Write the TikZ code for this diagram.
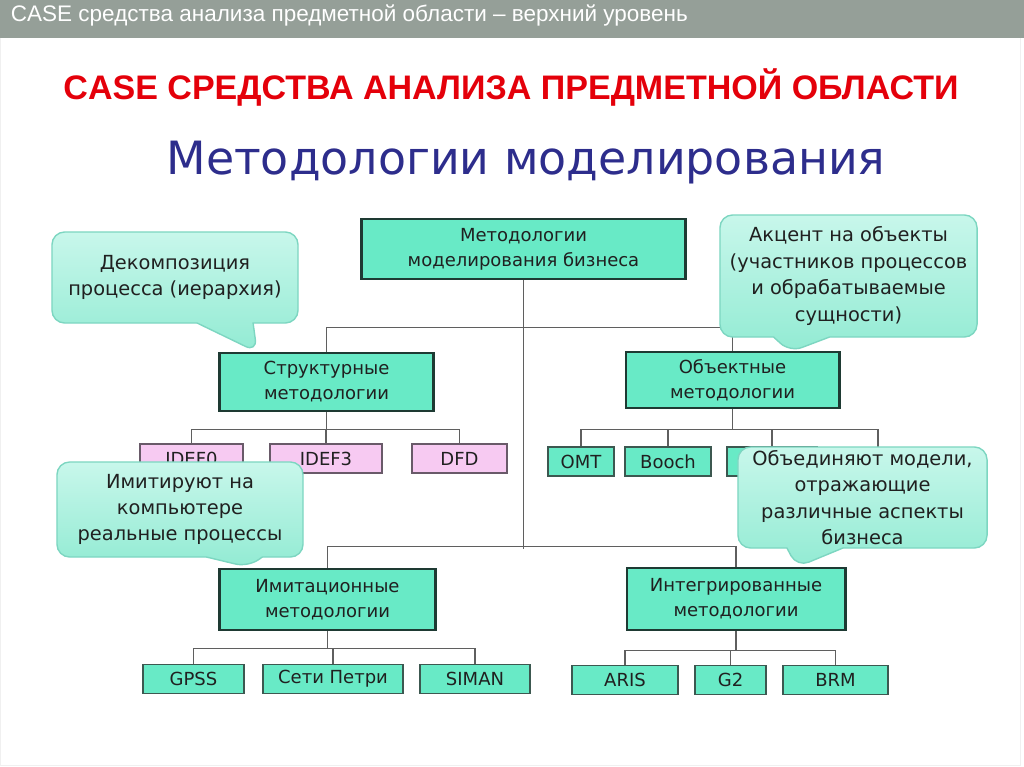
\documentclass[tikz,border=0pt]{standalone}
\usepackage{fontspec}
\setmainfont{DejaVu Sans}
\newfontfamily\slidefont{Liberation Sans}
\usepackage{xcolor}
\usetikzlibrary{shapes.callouts}

\definecolor{headgray}{RGB}{149,159,152}
\definecolor{titlered}{RGB}{228,0,10}
\definecolor{subblue}{RGB}{45,45,140}
\definecolor{tealfill}{RGB}{104,234,198}
\definecolor{boxline}{RGB}{30,58,51}
\definecolor{leafline}{RGB}{60,88,80}
\definecolor{pinkfill}{RGB}{247,202,242}
\definecolor{pinkline}{RGB}{105,90,105}
\definecolor{notetop}{RGB}{200,247,235}
\definecolor{notebot}{RGB}{146,235,211}
\definecolor{notedraw}{RGB}{125,214,193}
\definecolor{linkgray}{RGB}{95,95,95}
\definecolor{boxtext}{RGB}{32,32,32}

\tikzset{
  method/.style={draw=boxline, line width=2.1pt, fill=tealfill, inner sep=0pt,
    align=center, text=boxtext, font=\fontsize{12.8}{17.8}\selectfont},
  tool/.style={draw=leafline, line width=1pt, fill=tealfill, inner sep=0pt,
    minimum height=0.72cm, text=boxtext, font=\fontsize{12.8}{15}\selectfont},
  oldtool/.style={tool, fill=pinkfill, draw=pinkline},
  remark/.style={rectangle callout, rounded corners=9pt, draw=notedraw, line width=1pt,
    top color=notetop, bottom color=notebot, inner sep=0pt, align=center,
    text=boxtext, font=\fontsize{13.8}{18.8}\selectfont, callout pointer width=1.4cm},
  link/.style={draw=linkgray, line width=1.1pt},
}

\begin{document}
\begin{tikzpicture}[x=0.025cm, y=-0.025cm]
  \useasboundingbox (0,0) rectangle (1024,767);
  % slide header
  \fill[headgray] (0,0) rectangle (1024,38);
  \draw[gray!12] (0,38) -- (0,765) -- (1020,765) -- (1020,38);
  \node[anchor=base west, text=white, font=\slidefont\fontsize{16}{19}\selectfont] (head) at (6,22)
    {CASE средства анализа предметной области – верхний уровень};
  \node[anchor=base, text=titlered, font=\slidefont\bfseries\fontsize{24.2}{28}\selectfont] (title) at (511,100)
    {CASE СРЕДСТВА АНАЛИЗА ПРЕДМЕТНОЙ ОБЛАСТИ};
  \node[anchor=base, text=subblue, font=\fontsize{32.6}{38}\selectfont] (subtitle) at (526,175)
    {Методологии моделирования};

  % methodologies
  \node[method, minimum width=8.075cm, minimum height=1.5cm] (top) at (523.5,249) {Методологии\\моделирования бизнеса};
  \node[method, minimum width=5.325cm, minimum height=1.45cm] (struct) at (326.5,382) {Структурные\\методологии};
  \node[method, minimum width=5.325cm, minimum height=1.4cm] (obj) at (732.5,380) {Объектные\\методологии};
  \node[method, minimum width=5.375cm, minimum height=1.525cm] (imit) at (327.5,599.5) {Имитационные\\методологии};
  \node[method, minimum width=5.45cm, minimum height=1.55cm] (integ) at (736,599) {Интегрированные\\методологии};

  % tools
  \node[oldtool, minimum width=2.575cm] (idef0) at (191.5,458.5) {IDEF0};
  \node[oldtool, minimum width=2.8cm] (idef3) at (326,458.5) {IDEF3};
  \node[oldtool, minimum width=2.375cm] (dfd) at (459.5,458.5) {DFD};
  \node[tool, minimum width=1.65cm] (omt) at (581,461.5) {OMT};
  \node[tool, minimum width=2.15cm] (booch) at (668,461.5) {Booch};
  \node[tool, minimum width=2.25cm] (obj3) at (772,461.5) {};
  \coordinate (obj4) at (878,447);
  \node[tool, minimum width=2.525cm] (gpss) at (193.5,679) {GPSS};
  \node[tool, minimum width=3.5cm] (petri) at (333,679) {Сети Петри};
  \node[tool, minimum width=2.75cm] (siman) at (475,679) {SIMAN};
  \node[tool, minimum width=2.65cm] (aris) at (625,680) {ARIS};
  \node[tool, minimum width=1.775cm] (g2) at (730.5,680) {G2};
  \node[tool, minimum width=2.625cm] (brm) at (835.5,680) {BRM};

  % links
  \draw[link] (top.south) -- ++(0,269);
  \draw[link] (struct.north) -- ++(0,-24) -| (obj.north);
  \draw[link] (imit.north) -- ++(0,-21) -| (integ.north);
  \foreach \leaf in {idef0,idef3,dfd}
    \draw[link] (struct.south) -- ++(0,17) -| (\leaf.north);
  \foreach \leaf in {omt,booch,obj3}
    \draw[link] (obj.south) -- ++(0,20) -| (\leaf.north);
  \draw[link] (obj.south) -- ++(0,20) -| (obj4);
  \foreach \leaf in {gpss,petri,siman}
    \draw[link] (imit.south) -- ++(0,17) -| (\leaf.north);
  \foreach \leaf in {aris,g2,brm}
    \draw[link] (integ.south) -- ++(0,19) -| (\leaf.north);

  % remarks
  \node[remark, minimum width=6.15cm, minimum height=2.275cm, callout absolute pointer={(257,352)}] (decomp) at (175,277.5)
    {Декомпозиция\\процесса (иерархия)};
  \node[remark, minimum width=6.425cm, minimum height=3.05cm, callout absolute pointer={(790,352)}] (accent) at (848.5,276)
    {Акцент на объекты\\(участников процессов\\и обрабатываемые\\сущности)};
  \node[remark, minimum width=6.15cm, minimum height=2.375cm, callout absolute pointer={(248,567)}] (simul) at (180,509.5)
    {Имитируют на\\компьютере\\реальные процессы};
  \node[remark, minimum width=6.225cm, minimum height=2.525cm, callout absolute pointer={(797,567)}] (unify) at (862.5,497.5)
    {Объединяют модели,\\отражающие\\различные аспекты\\бизнеса};
\end{tikzpicture}
\end{document}
